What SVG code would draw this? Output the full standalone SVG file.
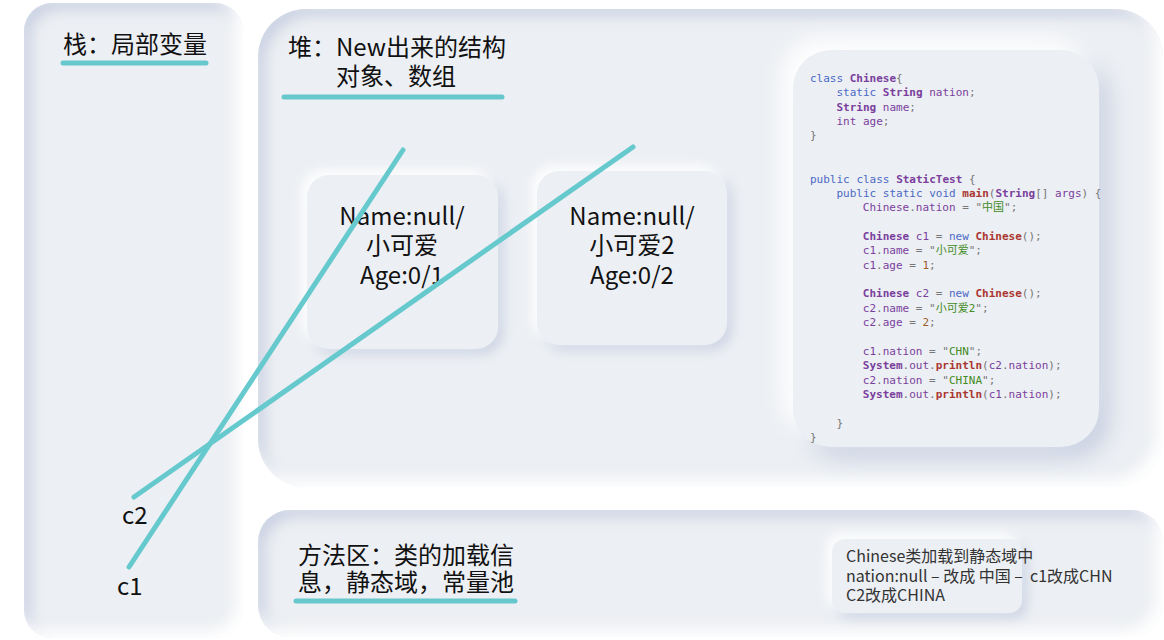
<svg xmlns="http://www.w3.org/2000/svg" width="1164" height="640" viewBox="0 0 1164 640">
<defs>
<style>
.panel{fill:#eceff3}
.title{font-family:"Noto Sans CJK SC","Noto Sans",sans-serif;font-size:24px;fill:#111}
.obj{font-family:"Noto Sans CJK SC","Noto Sans",sans-serif;font-size:24px;fill:#111;text-anchor:middle}
.ul{stroke:#66c8cc;stroke-width:5;stroke-linecap:round;fill:none}
.conn{stroke:#66c9cd;stroke-width:5;stroke-linecap:round;fill:none}
.code{font-family:"DejaVu Sans Mono","Liberation Mono","Noto Sans CJK SC",monospace;font-size:11px;fill:#777}
.kw{fill:#4b69c6}
.ty{fill:#7a3e9d;font-weight:bold}
.id{fill:#7a3e9d}
.fn{fill:#aa3731;font-weight:bold}
.st{fill:#448c27}
.nu{fill:#9c5d27}
.note{font-family:"Noto Sans CJK SC","Noto Sans",sans-serif;font-size:16px;fill:#333;white-space:pre}
</style>
<filter id="inset" x="-20%" y="-20%" width="140%" height="140%">
  <feComponentTransfer in="SourceAlpha" result="inv"><feFuncA type="table" tableValues="1 0"/></feComponentTransfer>
  <feOffset in="inv" dx="7" dy="7" result="invD"/>
  <feGaussianBlur in="invD" stdDeviation="7" result="invDB"/>
  <feFlood flood-color="#c9d1e2"/>
  <feComposite in2="invDB" operator="in" result="darkSh"/>
  <feComposite in="darkSh" in2="SourceAlpha" operator="in" result="darkIn"/>
  <feOffset in="inv" dx="-7" dy="-7" result="invL"/>
  <feGaussianBlur in="invL" stdDeviation="7" result="invLB"/>
  <feFlood flood-color="#ffffff"/>
  <feComposite in2="invLB" operator="in" result="lightSh"/>
  <feComposite in="lightSh" in2="SourceAlpha" operator="in" result="lightIn"/>
  <feMerge><feMergeNode in="SourceGraphic"/><feMergeNode in="darkIn"/><feMergeNode in="lightIn"/></feMerge>
</filter>
<filter id="raised" x="-30%" y="-30%" width="160%" height="160%">
  <feGaussianBlur in="SourceAlpha" stdDeviation="6" result="b"/>
  <feOffset in="b" dx="5" dy="5" result="bd"/>
  <feFlood flood-color="#cbd3e3"/><feComposite in2="bd" operator="in" result="dark"/>
  <feOffset in="b" dx="-5" dy="-5" result="bl"/>
  <feFlood flood-color="#ffffff"/><feComposite in2="bl" operator="in" result="light"/>
  <feMerge><feMergeNode in="dark"/><feMergeNode in="light"/><feMergeNode in="SourceGraphic"/></feMerge>
</filter>
<filter id="raisedBig" x="-30%" y="-30%" width="160%" height="160%">
  <feGaussianBlur in="SourceAlpha" stdDeviation="11" result="b"/>
  <feOffset in="b" dx="11" dy="11" result="bd"/>
  <feFlood flood-color="#c8d0e1"/><feComposite in2="bd" operator="in" result="dark"/>
  <feOffset in="b" dx="-11" dy="-11" result="bl"/>
  <feFlood flood-color="#ffffff"/><feComposite in2="bl" operator="in" result="light"/>
  <feMerge><feMergeNode in="dark"/><feMergeNode in="light"/><feMergeNode in="SourceGraphic"/></feMerge>
</filter>
</defs>
<rect width="1164" height="640" fill="#ffffff"/>

<g id="stack">
  <rect class="panel" x="24" y="3" width="219" height="635" rx="28" filter="url(#inset)"/>
  <text class="title" x="63" y="53">栈：局部变量</text>
  <line class="ul" x1="63" y1="63" x2="206" y2="63"/>
  <text class="title" x="122" y="524">c2</text>
  <text class="title" x="117" y="595">c1</text>
</g>

<g id="heap">
  <rect class="panel" x="258" y="9" width="905" height="478" rx="48" filter="url(#inset)"/>
  <text class="title" x="288" y="56">堆：New出来的结构</text>
  <text class="title" x="336" y="85">对象、数组</text>
  <line class="ul" x1="284" y1="97" x2="502" y2="97"/>
</g>

<g id="method-area">
  <rect class="panel" x="258" y="510" width="905" height="127" rx="32" filter="url(#inset)"/>
  <text class="title" x="298" y="564">方法区：类的加载信</text>
  <text class="title" x="298" y="591">息，静态域，常量池</text>
  <line class="ul" x1="296" y1="601" x2="515" y2="601"/>
</g>

<g id="obj1">
  <rect class="panel" x="307" y="175" width="191" height="174" rx="22" filter="url(#raised)"/>
  <text class="obj" x="402" y="225">Name:null/</text>
  <text class="obj" x="402" y="254">小可爱</text>
  <text class="obj" x="402" y="284">Age:0/1</text>
</g>

<g id="obj2">
  <rect class="panel" x="537" y="171" width="190" height="174" rx="22" filter="url(#raised)"/>
  <text class="obj" x="632" y="225">Name:null/</text>
  <text class="obj" x="632" y="254">小可爱2</text>
  <text class="obj" x="632" y="284">Age:0/2</text>
</g>

<g id="code">
  <rect class="panel" x="793" y="50" width="306" height="397" rx="38" filter="url(#raisedBig)"/>
  <g class="code">
    <text x="810" y="82"><tspan class="kw">class</tspan> <tspan class="ty">Chinese</tspan>{</text>
    <text x="836.4" y="96.4"><tspan class="kw">static</tspan> <tspan class="ty">String</tspan> <tspan class="id">nation</tspan>;</text>
    <text x="836.4" y="110.7"><tspan class="ty">String</tspan> <tspan class="id">name</tspan>;</text>
    <text x="836.4" y="125.1"><tspan class="id">int</tspan> <tspan class="id">age</tspan>;</text>
    <text x="810" y="139.4">}</text>
    <text x="810" y="182.5"><tspan class="kw">public</tspan> <tspan class="kw">class</tspan> <tspan class="ty">StaticTest</tspan> {</text>
    <text x="836.4" y="196.9"><tspan class="kw">public</tspan> <tspan class="kw">static</tspan> <tspan class="kw">void</tspan> <tspan class="fn">main</tspan>(<tspan class="ty">String</tspan>[] <tspan class="id">args</tspan>) {</text>
    <text x="862.8" y="211.2"><tspan class="id">Chinese</tspan>.<tspan class="id">nation</tspan> = "<tspan class="st">中国</tspan>";</text>
    <text x="862.8" y="240"><tspan class="ty">Chinese</tspan> <tspan class="id">c1</tspan> = <tspan class="kw">new</tspan> <tspan class="fn">Chinese</tspan>();</text>
    <text x="862.8" y="254.3"><tspan class="id">c1</tspan>.<tspan class="id">name</tspan> = "<tspan class="st">小可爱</tspan>";</text>
    <text x="862.8" y="268.7"><tspan class="id">c1</tspan>.<tspan class="id">age</tspan> = <tspan class="nu">1</tspan>;</text>
    <text x="862.8" y="297.4"><tspan class="ty">Chinese</tspan> <tspan class="id">c2</tspan> = <tspan class="kw">new</tspan> <tspan class="fn">Chinese</tspan>();</text>
    <text x="862.8" y="311.8"><tspan class="id">c2</tspan>.<tspan class="id">name</tspan> = "<tspan class="st">小可爱2</tspan>";</text>
    <text x="862.8" y="326.1"><tspan class="id">c2</tspan>.<tspan class="id">age</tspan> = <tspan class="nu">2</tspan>;</text>
    <text x="862.8" y="354.8"><tspan class="id">c1</tspan>.<tspan class="id">nation</tspan> = "<tspan class="st">CHN</tspan>";</text>
    <text x="862.8" y="369.2"><tspan class="ty">System</tspan>.<tspan class="id">out</tspan>.<tspan class="fn">println</tspan>(<tspan class="id">c2</tspan>.<tspan class="id">nation</tspan>);</text>
    <text x="862.8" y="383.6"><tspan class="id">c2</tspan>.<tspan class="id">nation</tspan> = "<tspan class="st">CHINA</tspan>";</text>
    <text x="862.8" y="397.9"><tspan class="ty">System</tspan>.<tspan class="id">out</tspan>.<tspan class="fn">println</tspan>(<tspan class="id">c1</tspan>.<tspan class="id">nation</tspan>);</text>
    <text x="836.4" y="426.6">}</text>
    <text x="810" y="441">}</text>
  </g>
</g>

<g id="note">
  <rect class="panel" x="832" y="539" width="190" height="74" rx="13" filter="url(#raised)"/>
  <text class="note" x="846" y="562">Chinese类加载到静态域中</text>
  <text class="note" x="846" y="582" xml:space="preserve">nation:null – 改成 中国 –  c1改成CHN</text>
  <text class="note" x="846" y="601">C2改成CHINA</text>
</g>

<g id="connectors">
  <line class="conn" x1="403" y1="150" x2="129" y2="567"/>
  <line class="conn" x1="633" y1="147" x2="134" y2="497"/>
</g>
</svg>
